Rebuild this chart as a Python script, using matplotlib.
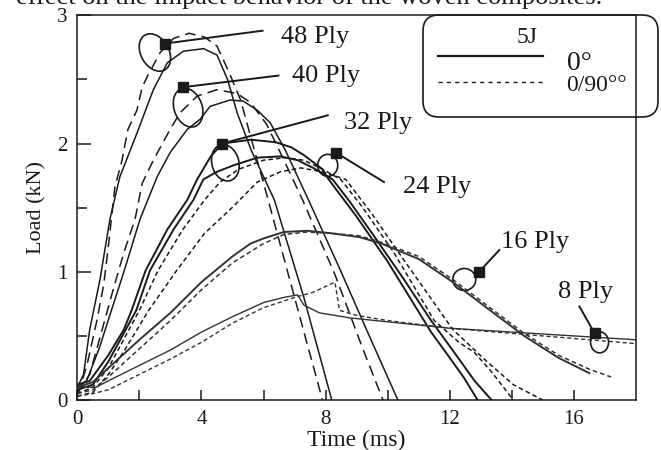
# Load-time curves for woven composites, 5J impact
import matplotlib.pyplot as plt
import matplotlib.transforms as mtransforms
from matplotlib.patches import Ellipse, FancyBboxPatch

plt.rcParams['font.family'] = ['Liberation Serif', 'DejaVu Serif']

# ==========================================
# DATA (time in ms, load in kN)
# ==========================================

t_48_0 = [0, 0.2, 0.4, 0.73, 1.05, 1.37, 1.92, 2.45, 2.9, 3.42, 4.07, 4.5, 4.84, 5.15, 5.6, 6.35, 7.3, 8.2]
load_48_0 = [0.1, 0.2, 0.55, 0.94, 1.41, 1.74, 2.08, 2.42, 2.63, 2.72, 2.74, 2.69, 2.5, 2.24, 1.95, 1.56, 0.8, 0.0]
t_48_90 = [0, 0.3, 0.63, 0.85, 1.0, 1.21, 1.44, 1.63, 1.92, 2.09, 2.25, 2.67, 3.1, 3.6, 4.1, 4.5, 4.9, 5.26, 6.15, 7.0, 7.9]
load_48_90 = [0.04, 0.26, 0.62, 0.9, 1.2, 1.66, 1.87, 2.11, 2.26, 2.44, 2.52, 2.71, 2.82, 2.86, 2.83, 2.76, 2.55, 2.34, 1.56, 0.8, 0.0]

t_40_0 = [0, 0.3, 0.7, 1.1, 1.5, 2.02, 2.57, 2.99, 3.54, 3.96, 4.28, 4.93, 5.35, 5.8, 6.22, 6.7, 7.45, 8.5, 9.5, 10.33]
load_40_0 = [0.1, 0.15, 0.4, 0.7, 1.0, 1.41, 1.74, 1.93, 2.11, 2.19, 2.29, 2.34, 2.33, 2.26, 2.16, 1.95, 1.56, 1.0, 0.45, 0.0]
t_40_90 = [0, 0.4, 0.8, 1.2, 1.5, 1.86, 2.09, 2.45, 2.99, 3.31, 3.86, 4.5, 5.15, 5.58, 6.1, 6.6, 7.26, 8.3, 9.2, 9.85]
load_40_90 = [0.05, 0.2, 0.55, 0.9, 1.15, 1.41, 1.69, 1.87, 2.11, 2.24, 2.37, 2.42, 2.39, 2.32, 2.15, 1.9, 1.56, 0.98, 0.4, 0.0]

t_32_0 = [0, 0.4, 1.0, 1.5, 1.75, 2.2, 2.9, 3.54, 3.86, 4.3, 4.67, 5.6, 6.4, 6.9, 7.3, 7.9, 8.1, 9.0, 10.0, 11.4, 12.0, 12.47, 12.9]
load_32_0 = [0.12, 0.15, 0.35, 0.55, 0.7, 1.01, 1.33, 1.56, 1.72, 1.9, 2.0, 2.03, 2.01, 1.97, 1.91, 1.8, 1.72, 1.43, 1.08, 0.53, 0.33, 0.17, 0.0]
t_32_90 = [0, 0.5, 1.0, 2.0, 2.6, 3.4, 4.1, 4.6, 5.2, 6.0, 6.7, 7.3, 7.9, 8.49, 9.2, 10.2, 11.5, 12.3, 12.8, 13.35, 14.05]
load_32_90 = [0.05, 0.1, 0.25, 0.7, 1.01, 1.33, 1.56, 1.7, 1.8, 1.87, 1.89, 1.87, 1.8, 1.72, 1.5, 1.15, 0.62, 0.45, 0.37, 0.22, 0.0]

t_24_0 = [0, 0.5, 1.0, 1.9, 2.34, 3.1, 3.74, 4.06, 4.5, 5.03, 5.8, 6.55, 7.1, 7.6, 8.23, 8.8, 9.5, 10.5, 11.4, 12.27, 12.8, 13.35]
load_24_0 = [0.08, 0.12, 0.3, 0.7, 1.01, 1.33, 1.56, 1.72, 1.78, 1.83, 1.89, 1.9, 1.87, 1.81, 1.72, 1.54, 1.3, 0.95, 0.62, 0.33, 0.15, 0.0]
t_24_90 = [0, 0.5, 1.0, 1.5, 2.3, 3.2, 4.1, 5.03, 5.8, 6.55, 7.2, 7.9, 8.65, 9.5, 10.5, 12.1, 13.2, 14.05, 15.0]
load_24_90 = [0.03, 0.06, 0.2, 0.38, 0.7, 1.01, 1.3, 1.51, 1.7, 1.78, 1.81, 1.78, 1.72, 1.45, 1.1, 0.55, 0.3, 0.12, 0.0]

t_16_0 = [0, 0.5, 1.0, 2.0, 3.0, 4.0, 5.0, 5.58, 6.0, 6.65, 7.4, 8.2, 9.1, 9.8, 11.0, 12.1, 13.3, 14.4, 15.5, 16.5]
load_16_0 = [0.1, 0.14, 0.25, 0.47, 0.68, 0.92, 1.12, 1.22, 1.26, 1.31, 1.32, 1.3, 1.27, 1.22, 1.1, 0.92, 0.7, 0.5, 0.33, 0.21]
t_16_90 = [0, 0.5, 1.0, 2.0, 3.0, 4.0, 5.0, 6.0, 6.65, 7.4, 8.2, 9.1, 9.8, 11.0, 12.1, 13.3, 14.4, 15.5, 16.5, 17.2]
load_16_90 = [0.05, 0.08, 0.18, 0.4, 0.62, 0.86, 1.07, 1.22, 1.29, 1.31, 1.3, 1.28, 1.23, 1.12, 0.94, 0.72, 0.52, 0.35, 0.24, 0.18]

t_8_0 = [0, 0.3, 0.6, 1.0, 2.0, 3.0, 4.0, 5.0, 6.0, 6.65, 7.1, 7.3, 7.8, 8.8, 10.4, 12.0, 14.0, 16.0, 18.0]
load_8_0 = [0.12, 0.1, 0.1, 0.15, 0.27, 0.39, 0.53, 0.65, 0.76, 0.8, 0.82, 0.74, 0.68, 0.64, 0.6, 0.56, 0.53, 0.5, 0.47]
t_8_90 = [0, 0.5, 1.0, 2.0, 3.0, 4.0, 5.0, 6.0, 7.0, 7.6, 8.3, 8.45, 9.0, 10.0, 12.0, 14.0, 16.0, 18.0]
load_8_90 = [0.03, 0.05, 0.08, 0.2, 0.32, 0.45, 0.6, 0.72, 0.8, 0.84, 0.92, 0.7, 0.66, 0.62, 0.56, 0.52, 0.48, 0.44]

ply_labels = ['48 Ply', '40 Ply', '32 Ply', '24 Ply', '16 Ply', '8 Ply']

# ==========================================
# FIGURE
# ==========================================

fig = plt.figure(figsize=(6.61, 4.5), dpi=100)
ax = fig.add_axes([0.117, 0.111, 0.845, 0.855])

ink = '#1a1a1a'
grey = '#333333'

# thick plates: long dashes for 0/90
ax.plot(t_48_0, load_48_0, color=ink, lw=1.1)
ax.plot(t_48_90, load_48_90, color=ink, lw=1.1, dashes=(7, 4))
ax.plot(t_40_0, load_40_0, color=ink, lw=1.1)
ax.plot(t_40_90, load_40_90, color=ink, lw=1.1, dashes=(7, 4))
# thinner plates: short dashes
ax.plot(t_32_0, load_32_0, color=ink, lw=1.4)
ax.plot(t_32_90, load_32_90, color=ink, lw=1.1, dashes=(3, 2))
ax.plot(t_24_0, load_24_0, color=ink, lw=1.4)
ax.plot(t_24_90, load_24_90, color=ink, lw=1.1, dashes=(3, 2))
ax.plot(t_16_0, load_16_0, color=grey, lw=1.4)
ax.plot(t_16_90, load_16_90, color=grey, lw=1.1, dashes=(3, 2))
ax.plot(t_8_0, load_8_0, color=grey, lw=1.0)
ax.plot(t_8_90, load_8_90, color=grey, lw=1.0, dashes=(3, 2))

ax.set_xlim(0, 18)
ax.set_ylim(0, 3)
ax.set_xticks([0, 4, 8, 12, 16])
ax.set_xticks([2, 6, 10, 14], minor=True)
ax.set_yticks([0, 1, 2, 3])
ax.set_yticks([0.5, 1.5, 2.5], minor=True)
ax.tick_params(which='both', direction='in', top=False, right=False,
               labelsize=15, width=1.1, colors=ink, pad=7)
ax.tick_params(axis='y', which='major', length=10)
ax.tick_params(axis='y', which='minor', length=7)
ax.tick_params(axis='x', which='both', length=7)
for s in ax.spines.values():
    s.set_linewidth(1.1)
    s.set_color(ink)

ax.set_xlabel('Time (ms)', fontsize=17, color=ink, labelpad=1)
ax.set_ylabel('Load (kN)', fontsize=16, color=ink, labelpad=8)

# ==========================================
# PLY ANNOTATIONS
# ==========================================

# marker, end of leader, text anchor, ellipse centre, ellipse size (px) and tilt
notes = [
    ((2.83, 2.78), (5.97, 2.88), (6.55, 2.83), (2.5, 2.71), 28, 40, 30),
    ((3.42, 2.44), (6.48, 2.53), (6.93, 2.53), (3.57, 2.28), 28, 40, 20),
    ((4.67, 2.00), (8.07, 2.22), (8.58, 2.16), (4.77, 1.85), 27, 37, 15),
    ((8.33, 1.93), (9.88, 1.70), (10.49, 1.66), (8.07, 1.83), 20, 22, 0),
    ((12.95, 1.00), (13.6, 1.17), (13.66, 1.23), (12.47, 0.94), 23, 22, 0),
    ((16.67, 0.52), (16.18, 0.73), (15.5, 0.84), (16.83, 0.45), 18, 21, 0),
]

for label, (mk, end, txt, ctr, w, h, ang) in zip(ply_labels, notes):
    ax.plot([mk[0], end[0]], [mk[1], end[1]], color=ink, lw=1.4)
    ax.plot(mk[0], mk[1], marker='s', ms=7, color=ink)
    tr = fig.dpi_scale_trans + mtransforms.ScaledTranslation(ctr[0], ctr[1], ax.transData)
    ax.add_patch(Ellipse((0, 0), w / 100, h / 100, angle=ang, fill=False,
                         edgecolor=ink, lw=1.2, transform=tr))
    ax.text(txt[0], txt[1], label, fontsize=19, color=ink, ha='left', va='center')

# ==========================================
# LEGEND BOX
# ==========================================

box = FancyBboxPatch((4.23, 3.33), 2.35, 1.02,
                     boxstyle='round,pad=0,rounding_size=0.16',
                     transform=fig.dpi_scale_trans, fill=False,
                     edgecolor=ink, lw=1.2, clip_on=False)
fig.patches.append(box)

ax.text(0.805, 0.943, '5J', transform=ax.transAxes, fontsize=17,
        color=ink, ha='center', va='center')
ax.plot([0.645, 0.833], [0.894, 0.894], transform=ax.transAxes,
        color=ink, lw=1.6, clip_on=False)
ax.plot([0.645, 0.833], [0.826, 0.826], transform=ax.transAxes,
        color=ink, lw=1.0, dashes=(3, 3), clip_on=False)
ax.text(0.876, 0.876, '0°', transform=ax.transAxes, fontsize=20,
        color=ink, ha='left', va='center')
ax.text(0.876, 0.818, '0/90°°', transform=ax.transAxes, fontsize=17,
        color=ink, ha='left', va='center')

# caption line cut off at the top of the page
fig.text(0.468, 1 - 4 / 450, 'effect on the impact behavior of the woven composites.',
         fontsize=19, color=ink, ha='center', va='baseline')

fig.savefig('out.png', dpi=100)
